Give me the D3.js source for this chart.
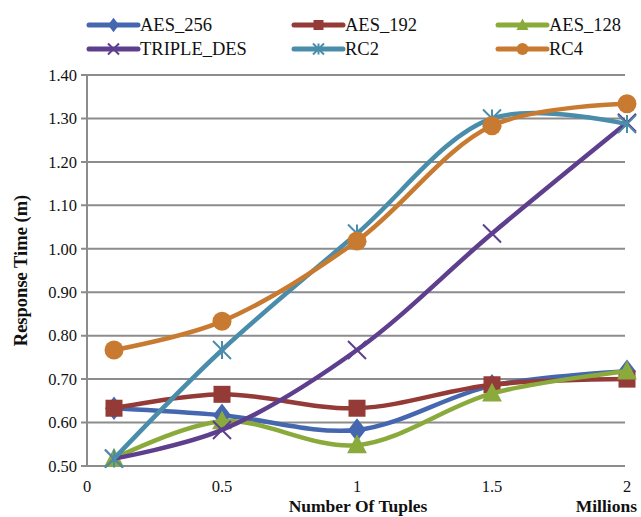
<!DOCTYPE html>
<html>
<head>
<meta charset="utf-8">
<script src="https://cdn.jsdelivr.net/npm/d3@7"></script>
<style>
  body { margin: 0; background: #fff; }
  text { font-family: "Liberation Serif", "DejaVu Serif", serif; fill: #111; }
</style>
</head>
<body>
<svg id="chart" width="641" height="517"></svg>
<script>
const WIDTH = 641;
const HEIGHT = 517;

const xValues = [0.1, 0.5, 1, 1.5, 2];
const seriesNames = ["AES_256", "AES_192", "AES_128", "TRIPLE_DES", "RC2", "RC4"];
const aes256 = [0.633, 0.617, 0.583, 0.685, 0.718];
const aes192 = [0.633, 0.665, 0.633, 0.687, 0.700];
const aes128 = [0.517, 0.603, 0.548, 0.667, 0.718];
const tripleDes = [0.517, 0.583, 0.767, 1.035, 1.290];
const rc2 = [0.517, 0.767, 1.035, 1.300, 1.287];
const rc4 = [0.767, 0.833, 1.018, 1.283, 1.334];
const yTicks = [0.5, 0.6, 0.7, 0.8, 0.9, 1.0, 1.1, 1.2, 1.3, 1.4];
const xTicks = [0, 0.5, 1, 1.5, 2];

const COLORS = ["#4467b0", "#943a37", "#8aab3c", "#5d3f8e", "#4a8dab", "#c97a31"];
const SHAPES = ["diamond", "square", "triangle", "cross", "star", "circle"];

const allValues = [aes256, aes192, aes128, tripleDes, rc2, rc4];
const series = seriesNames.map((name, i) => ({
    name,
    color: COLORS[i],
    shape: SHAPES[i],
    points: xValues.map((x, j) => ({x, y: allValues[i][j]}))
}));

const margin = {left: 87, right: 14, top: 75, bottom: 51};

const svg = d3.select("#chart");

const x = d3.scaleLinear().domain([0, 2]).range([margin.left, WIDTH - margin.right]);
const y = d3.scaleLinear().domain([0.5, 1.4]).range([HEIGHT - margin.bottom, margin.top]);

// gridlines
svg.append("g")
    .selectAll("line")
    .data(yTicks)
    .enter()
    .append("line")
    .attr("x1", margin.left - 6)
    .attr("x2", x(2) - 2)
    .attr("y1", d => y(d))
    .attr("y2", d => y(d))
    .attr("stroke", "#8c8c8c")
    .attr("stroke-width", 2);

// y axis line
svg.append("line")
    .attr("x1", margin.left).attr("x2", margin.left)
    .attr("y1", y(1.4)).attr("y2", y(0.5))
    .attr("stroke", "#8c8c8c").attr("stroke-width", 2);

// y tick labels
svg.append("g")
    .selectAll("text")
    .data(yTicks)
    .enter()
    .append("text")
    .attr("x", margin.left - 10)
    .attr("y", d => y(d))
    .attr("dy", "0.35em")
    .attr("text-anchor", "end")
    .attr("font-size", 16.5)
    .text(d => d3.format(".2f")(d));

// x tick labels
svg.append("g")
    .selectAll("text")
    .data(xTicks)
    .enter()
    .append("text")
    .attr("x", d => x(d))
    .attr("y", HEIGHT - margin.bottom + 20)
    .attr("dy", "0.35em")
    .attr("text-anchor", "middle")
    .attr("font-size", 16.5)
    .text(d => d);

// axis titles
svg.append("text")
    .attr("x", 358).attr("y", 506)
    .attr("dy", "0.35em")
    .attr("text-anchor", "middle")
    .attr("font-size", 17.5).attr("font-weight", "bold")
    .text("Number Of Tuples");

svg.append("text")
    .attr("x", 637).attr("y", 506)
    .attr("dy", "0.35em")
    .attr("text-anchor", "end")
    .attr("font-size", 17.5).attr("font-weight", "bold")
    .text("Millions");

svg.append("text")
    .attr("transform", `translate(21, ${(y(1.4) + y(0.5)) / 2}) rotate(-90)`)
    .attr("dy", "0.35em")
    .attr("text-anchor", "middle")
    .attr("font-size", 18.5).attr("font-weight", "bold")
    .text("Response Time (m)");

// marker drawing
function drawMarker(g, shape, color, size) {
    const s = size;
    if (shape === "diamond") {
        g.append("path").attr("d", `M0,${-s * 0.65}L${s * 0.5},0L0,${s * 0.65}L${-s * 0.5},0Z`).attr("fill", color);
    } else if (shape === "square") {
        g.append("rect").attr("x", -s / 2).attr("y", -s / 2).attr("width", s).attr("height", s).attr("fill", color);
    } else if (shape === "triangle") {
        g.append("path").attr("d", `M0,${-s * 0.6}L${s * 0.55},${s * 0.45}L${-s * 0.55},${s * 0.45}Z`).attr("fill", color);
    } else if (shape === "circle") {
        g.append("circle").attr("r", s / 2).attr("fill", color);
    } else if (shape === "cross" || shape === "star") {
        const h = s / 2;
        g.append("path").attr("d", `M${-h},${-h}L${h},${h}M${-h},${h}L${h},${-h}`)
            .attr("stroke", color).attr("stroke-width", 2).attr("fill", "none");
        if (shape === "star") {
            g.append("path").attr("d", `M0,${-h}L0,${h}`)
                .attr("stroke", color).attr("stroke-width", 2);
        }
    }
}

const line = d3.line()
    .x(d => x(d.x))
    .y(d => y(d.y))
    .curve(d3.curveCatmullRom.alpha(0.5));

series.forEach(s => {
    const g = svg.append("g");
    g.append("path")
        .datum(s.points)
        .attr("d", line)
        .attr("fill", "none")
        .attr("stroke", s.color)
        .attr("stroke-width", 4.5);
    g.selectAll("g.mk")
        .data(s.points)
        .enter()
        .append("g")
        .attr("class", "mk")
        .attr("transform", d => `translate(${x(d.x)}, ${y(d.y)})`)
        .each(function() { drawMarker(d3.select(this), s.shape, s.color, s.shape === "circle" ? 19 : s.shape === "square" ? 17 : 18); });
});

// legend
const legendCols = [89, 294, 498];
const legendRows = [25, 49];
const legend = svg.append("g");
series.forEach((s, i) => {
    const lx = legendCols[i % 3];
    const ly = legendRows[Math.floor(i / 3)];
    const g = legend.append("g").attr("transform", `translate(${lx}, ${ly})`);
    g.append("line").attr("x1", 0).attr("x2", 49).attr("y1", 0).attr("y2", 0)
        .attr("stroke", s.color).attr("stroke-width", 5).attr("stroke-linecap", "round");
    const mk = g.append("g").attr("transform", "translate(24.5, 0)");
    drawMarker(mk, s.shape, s.color, s.shape === "circle" ? 12 : s.shape === "square" ? 10 : 11);
    g.append("text")
        .attr("x", 51).attr("y", 0).attr("dy", "0.35em")
        .attr("font-size", 18.5)
        .text(s.name);
});
</script>
</body>
</html>
